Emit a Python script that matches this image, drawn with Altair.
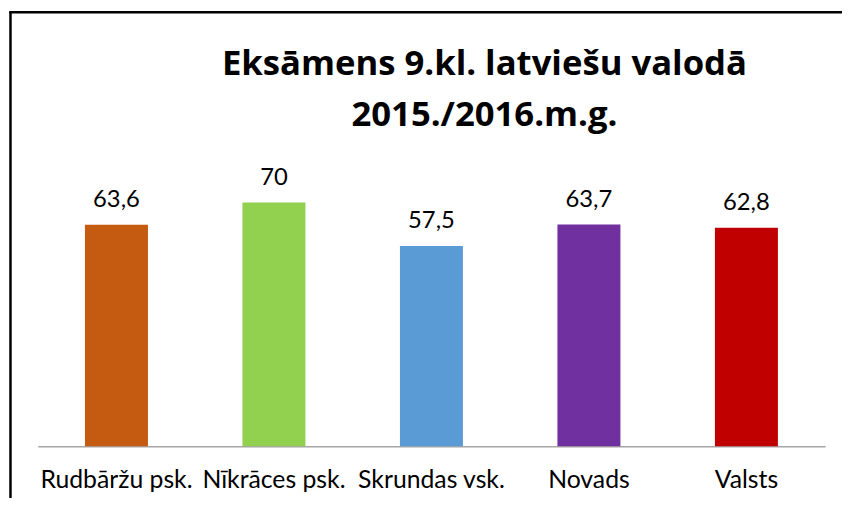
import altair as alt
import pandas as pd

categories = ["Rudbāržu psk.", "Nīkrāces psk.", "Skrundas vsk.", "Novads", "Valsts"]
values = [63.6, 70, 57.5, 63.7, 62.8]
colors = ["#C55A11", "#92D050", "#5B9BD5", "#7030A0", "#C00000"]
title_lines = ["Eksāmens 9.kl. latviešu valodā", "2015./2016.m.g."]

FONT = "Lato"
TITLE_FONT = "Open Sans"

df = pd.DataFrame({"cat": categories, "value": values})

x = alt.X(
    "cat:N", sort=None, title=None,
    scale=alt.Scale(paddingInner=0.6, paddingOuter=0.3),
    axis=alt.Axis(labelAngle=0, ticks=False, grid=False, domainColor="#A6A6A6",
                  domainWidth=1.5, labelFont=FONT, labelFontSize=25, labelColor="#000000",
                  labelPadding=42, labelBaseline="alphabetic"),
)
y = alt.Y("value:Q", scale=alt.Scale(domain=[0, 80]), axis=None)

bars = alt.Chart(df).mark_bar().encode(
    x=x, y=y,
    color=alt.Color("cat:N", scale=alt.Scale(domain=categories, range=colors), legend=None),
)

labels = alt.Chart(df).transform_calculate(
    label="replace(toString(datum.value), '.', ',')"
).mark_text(font=FONT, fontSize=24, baseline="alphabetic", dy=-18, color="#000000").encode(
    x=x, y=y, text="label:N"
)

title = alt.Chart(pd.DataFrame({"t": ["\n".join(title_lines)]})).mark_text(
    font=TITLE_FONT, fontSize=35, fontWeight="bold", lineBreak="\n", lineHeight=52,
    baseline="alphabetic", align="center", color="#000000"
).encode(x=alt.value(451), y=alt.value(-94), text="t:N")

frame = pd.DataFrame({"a": [0]})
border_top = alt.Chart(frame).mark_rule(color="#000000", strokeWidth=2.5).encode(
    x=alt.value(-28.7), x2=alt.value(830), y=alt.value(-157)
)
border_left = alt.Chart(frame).mark_rule(color="#000000", strokeWidth=2.5).encode(
    x=alt.value(-27.5), y=alt.value(-158), y2=alt.value(340)
)

chart = alt.layer(bars, labels, title, border_top, border_left).properties(
    width=795, height=281,
    autosize=alt.AutoSizeParams(type="none"),
    padding={"left": 30, "top": 159, "right": 17, "bottom": 50},
    background="white",
).configure_view(stroke=None)

chart.save("out.html", embed_options={"renderer": "svg", "actions": False})
